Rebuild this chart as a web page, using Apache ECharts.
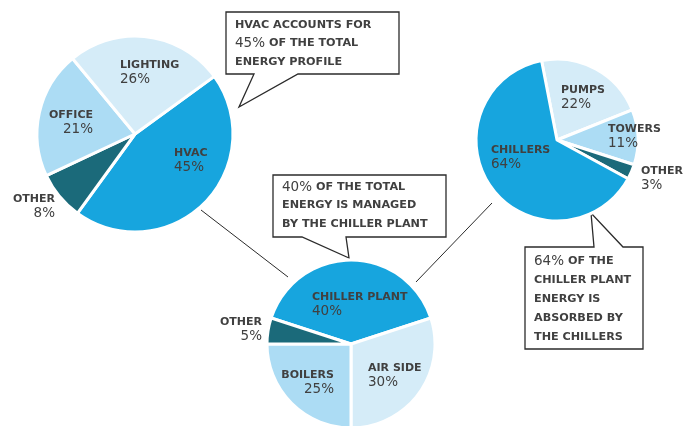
<!DOCTYPE html>
<html>
<head>
<meta charset="utf-8">
<script src="https://cdn.jsdelivr.net/npm/echarts@6/dist/echarts.min.js"></script>
<style>
  html, body { margin: 0; padding: 0; background: #fff; }
  #chart { width: 693px; height: 426px; }
</style>
</head>
<body>
<div id="chart"></div>
<script>
// slices listed clockwise from each pie's start angle
const totalNames = ['HVAC', 'OTHER', 'OFFICE', 'LIGHTING']
const totalValues = [45, 8, 21, 26]

const hvacNames = ['CHILLER PLANT', 'AIR SIDE', 'BOILERS', 'OTHER']
const hvacValues = [40, 30, 25, 5]

const plantNames = ['PUMPS', 'TOWERS', 'OTHER', 'CHILLERS']
const plantValues = [22, 11, 3, 64]

const calloutTotal = ['HVAC ACCOUNTS FOR', '45% OF THE TOTAL', 'ENERGY PROFILE']
const calloutHvac = ['40% OF THE TOTAL', 'ENERGY IS MANAGED', 'BY THE CHILLER PLANT']
const calloutPlant = ['64% OF THE', 'CHILLER PLANT', 'ENERGY IS', 'ABSORBED BY', 'THE CHILLERS']

const DARK = '#17a5de'
const LIGHT = '#acdcf4'
const PALE = '#d5ecf8'
const TEAL = '#1b6a7a'
const INK = '#404040'

// label anchor per slice: [x, y, align]
const labelSpots = [
  [[174, 160, 'left'], [55, 206, 'right'], [93, 122, 'right'], [120, 72, 'left']],
  [[312, 304, 'left'], [368, 375, 'left'], [334, 382, 'right'], [262, 329, 'right']],
  [[561, 97, 'left'], [608, 136, 'left'], [641, 178, 'left'], [491, 157, 'left']]
]

const labelRich = {
  nleft: { fontFamily: 'DejaVu Sans', fontWeight: 'bold', fontSize: 11, color: INK, align: 'left', lineHeight: 14 },
  pleft: { fontFamily: 'DejaVu Sans', fontSize: 13.5, color: INK, align: 'left', lineHeight: 14 },
  nright: { fontFamily: 'DejaVu Sans', fontWeight: 'bold', fontSize: 11, color: INK, align: 'right', lineHeight: 14 },
  pright: { fontFamily: 'DejaVu Sans', fontSize: 13.5, color: INK, align: 'right', lineHeight: 14 }
}

const makePie = (idx, names, values, colors, center, radius, startAngle) => ({
  type: 'pie',
  center: center,
  radius: radius,
  startAngle: startAngle,
  clockwise: true,
  animation: false,
  emphasis: { disabled: true },
  itemStyle: { borderColor: '#fff', borderWidth: 3 },
  label: {
    show: true,
    position: 'inside',
    formatter: (p) => {
      const a = labelSpots[idx][p.dataIndex][2]
      return `{n${a}|${p.name}}\n{p${a}|${p.value}%}`
    },
    rich: labelRich
  },
  labelLine: { show: false },
  labelLayout: (p) => {
    const s = labelSpots[idx][p.dataIndex]
    return { x: s[0], y: s[1], align: s[2], verticalAlign: 'middle' }
  },
  data: names.map((n, i) => ({ name: n, value: values[i], itemStyle: { color: colors[i] } }))
})

const calloutText = (lines, x, y0, step) => lines.map((line, i) => ({
  type: 'text',
  x: x,
  y: y0 + i * step,
  style: {
    text: /^\d+%/.test(line)
      ? line.replace(/^(\d+%)(.*)$/, '{d|$1}{b|$2}')
      : `{b|${line}}`,
    verticalAlign: 'middle',
    align: 'left',
    rich: {
      b: { fontFamily: 'DejaVu Sans', fontWeight: 'bold', fontSize: 11.2, fill: INK },
      d: { fontFamily: 'DejaVu Sans', fontSize: 13.5, fill: INK }
    }
  }
}))

const bubble = (points) => ({
  type: 'polygon',
  shape: { points: points },
  style: { fill: '#fff', stroke: '#2b2b2b', lineWidth: 1.3 }
})

const connector = (x1, y1, x2, y2) => ({
  type: 'line',
  shape: { x1, y1, x2, y2 },
  style: { stroke: '#2b2b2b', lineWidth: 1 }
})

const option = {
  backgroundColor: '#fff',
  animation: false,
  series: [
    makePie(0, totalNames, totalValues, [DARK, TEAL, LIGHT, PALE], [135, 134], 98, 36),
    makePie(1, hvacNames, hvacValues, [DARK, PALE, LIGHT, TEAL], [351, 344], 84, 162),
    makePie(2, plantNames, plantValues, [PALE, LIGHT, TEAL, DARK], [557, 140], 81, 101)
  ],
  graphic: [
    connector(201, 210, 288, 277),
    connector(416, 282, 492, 203),
    bubble([[226, 12], [399, 12], [399, 74], [298, 74], [239, 107], [254, 74], [226, 74]]),
    bubble([[273, 175], [446, 175], [446, 237], [346, 237], [349, 258], [302, 237], [273, 237]]),
    bubble([[525, 247], [594, 247], [591, 213], [623, 247], [643, 247], [643, 349], [525, 349]]),
    ...calloutText(calloutTotal, 235, 25, 18.5),
    ...calloutText(calloutHvac, 282, 187, 18.5),
    ...calloutText(calloutPlant, 534, 261, 19)
  ]
}

const chart = echarts.init(document.getElementById('chart'))
chart.setOption(option)
</script>
</body>
</html>
